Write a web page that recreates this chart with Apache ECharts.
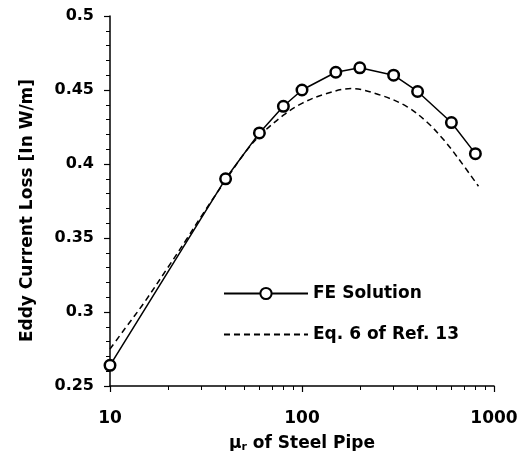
<!DOCTYPE html>
<html>
<head>
<meta charset="utf-8">
<script src="https://cdn.jsdelivr.net/npm/echarts@6/dist/echarts.min.js"></script>
<style>
html,body{margin:0;padding:0;background:#fff;}
#chart{width:531px;height:451px;}
</style>
</head>
<body>
<div id="chart"></div>
<script>
// ---- data ----
var muFE = [10, 40, 60, 80, 100, 150, 200, 300, 400, 600, 800];
var lossFE = [0.264, 0.390, 0.421, 0.439, 0.450, 0.462, 0.465, 0.460, 0.449, 0.428, 0.407];

var muEq = [10, 12, 15, 20, 25, 30, 40, 50, 60, 80, 100, 130, 180, 250, 350, 450, 550, 650, 830];
var lossEq = [0.275, 0.289, 0.306, 0.330, 0.349, 0.365, 0.389, 0.407, 0.419, 0.433, 0.441, 0.447, 0.451, 0.447, 0.439, 0.428, 0.416, 0.404, 0.385];

var xMajorTicks = [10, 100, 1000];
var xMinorTicks = [20, 30, 40, 50, 60, 70, 80, 90, 200, 300, 400, 500, 600, 700, 800, 900];
var yTickLabels = ['0.25', '0.3', '0.35', '0.4', '0.45', '0.5'];

var seriesNames = ['FE Solution', 'Eq. 6 of Ref. 13'];

function pairs(xs, ys) {
  var out = [];
  for (var i = 0; i < xs.length; i++) out.push([xs[i], ys[i]]);
  return out;
}

var FONT = 'DejaVu Sans';
var chart = echarts.init(document.getElementById('chart'), null, {renderer: 'canvas'});
chart.setOption({
  backgroundColor: '#ffffff',
  animation: false,
  grid: {left: 110, right: 37, top: 16, bottom: 65, containLabel: false, outerBoundsMode: 'none'},
  legend: {
    orient: 'vertical',
    left: 223,
    top: 285,
    padding: 0,
    itemWidth: 84,
    itemHeight: 14,
    itemGap: 24,
    data: seriesNames,
    textStyle: {fontFamily: FONT, fontWeight: 'bold', fontSize: 17, color: '#000'}
  },
  xAxis: [{
    type: 'log',
    logBase: 10,
    min: 10,
    max: 1000,
    name: '{mu|μ}{sub|r}{t| of Steel Pipe}',
    nameLocation: 'middle',
    nameGap: 48,
    nameTextStyle: {
      rich: {
        mu: {fontFamily: FONT, fontWeight: 'bold', fontSize: 17, color: '#000'},
        sub: {fontFamily: FONT, fontWeight: 'bold', fontSize: 11, color: '#000', verticalAlign: 'bottom', padding: [8, 0, 0, 0]},
        t: {fontFamily: FONT, fontWeight: 'bold', fontSize: 17, color: '#000'}
      }
    },
    axisLine: {show: true, lineStyle: {color: '#000', width: 1.5}},
    axisTick: {show: true, length: 6, lineStyle: {color: '#000', width: 1.2}},
    minorTick: {show: false},
    axisLabel: {
      margin: 24,
      fontFamily: FONT, fontWeight: 'bold', fontSize: 17, color: '#000',
      formatter: function (v) {
        for (var i = 0; i < xMajorTicks.length; i++) {
          if (Math.abs(v - xMajorTicks[i]) < 1e-6 * xMajorTicks[i]) return String(xMajorTicks[i]);
        }
        return '';
      }
    },
    splitLine: {show: false}
  }, {
    // helper axis in decade units (log10 of mu) used only to place the minor log ticks
    type: 'value',
    min: Math.log10(xMajorTicks[0]),
    max: Math.log10(xMajorTicks[xMajorTicks.length - 1]),
    position: 'bottom',
    axisLine: {show: false},
    axisTick: {show: true, length: 4, lineStyle: {color: '#000', width: 1}, customValues: xMinorTicks.map(Math.log10)},
    axisLabel: {show: false},
    splitLine: {show: false}
  }],
  yAxis: {
    type: 'value',
    min: 0.25,
    max: 0.5,
    interval: 0.05,
    name: 'Eddy Current Loss [In W/m]',
    nameLocation: 'middle',
    nameGap: 74,
    nameTextStyle: {fontFamily: FONT, fontWeight: 'bold', fontSize: 17, color: '#000', padding: [0, 19, 0, 0]},
    axisLine: {show: true, lineStyle: {color: '#000', width: 1.5}},
    axisTick: {show: true, length: 6, lineStyle: {color: '#000', width: 1.2}},
    minorTick: {show: true, splitNumber: 5, length: 4, lineStyle: {color: '#000', width: 1}},
    axisLabel: {
      margin: 16,
      fontFamily: FONT, fontWeight: 'bold', fontSize: 16, color: '#000',
      formatter: function (v) {
        var idx = Math.round((v - 0.25) / 0.05);
        return yTickLabels[idx] !== undefined ? yTickLabels[idx] : '';
      }
    },
    splitLine: {show: false}
  },
  series: [{
    name: seriesNames[1],
    type: 'line',
    xAxisIndex: 0,
    data: pairs(muEq, lossEq),
    smooth: 0.35,
    showSymbol: false,
    symbol: 'none',
    clip: false,
    lineStyle: {color: '#000', width: 1.5, type: [6, 4]},
    itemStyle: {color: 'rgba(0,0,0,0)'},
    z: 2
  }, {
    name: seriesNames[0],
    type: 'line',
    xAxisIndex: 0,
    data: pairs(muFE, lossFE),
    symbol: 'circle',
    symbolSize: 10.5,
    showSymbol: true,
    clip: false,
    lineStyle: {color: '#000', width: 1.5},
    itemStyle: {color: '#fff', borderColor: '#000', borderWidth: 2.5},
    z: 3
  }]
});
</script>
</body>
</html>
